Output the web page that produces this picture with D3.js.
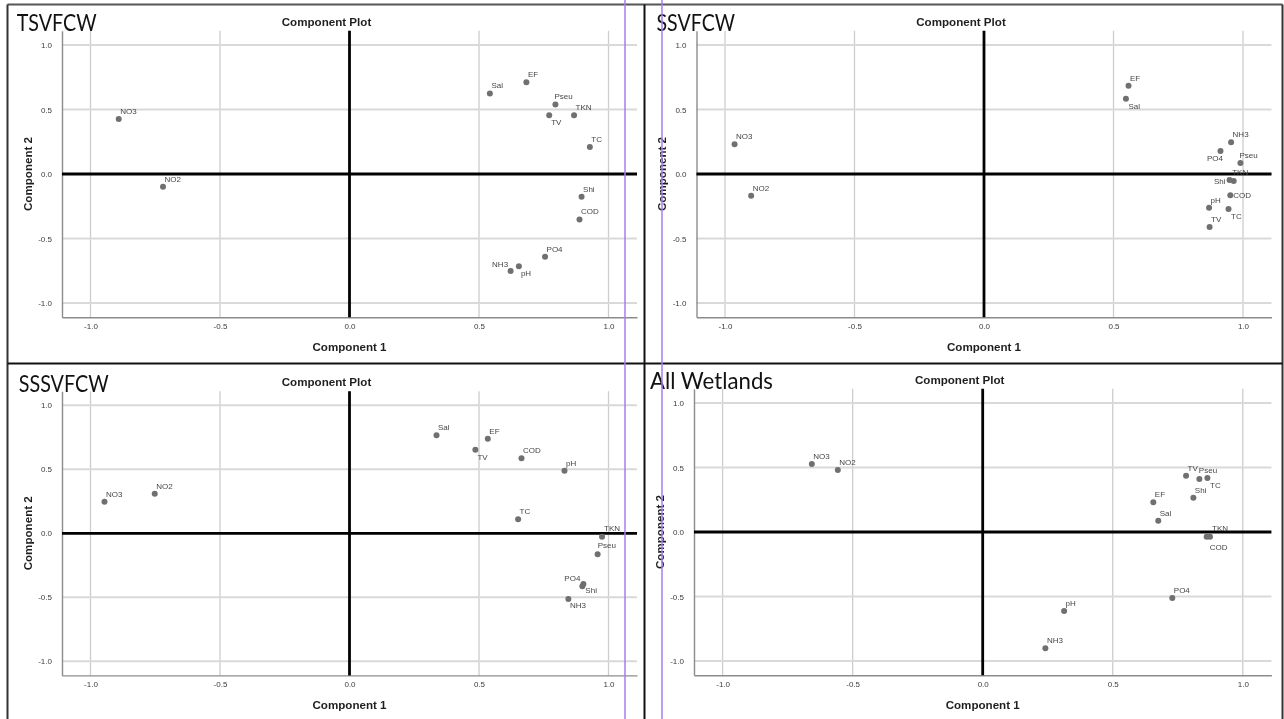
<!DOCTYPE html>
<html>
<head>
<meta charset="utf-8">
<script src="https://cdn.jsdelivr.net/npm/d3@7"></script>
<style>
  html, body { margin: 0; padding: 0; background: #ffffff; }
  svg { display: block; }
</style>
</head>
<body>
<svg id="chart" width="1284" height="719"></svg>
<script>
// Component loadings (rotated PCA) for each wetland type
const panelNames = ["TSVFCW", "SSVFCW", "SSSVFCW", "All Wetlands"];
const axisTicks = [-1.0, -0.5, 0.0, 0.5, 1.0];

const tsvVars  = ["NO3", "NO2", "Sal", "EF", "Pseu", "TV", "TKN", "TC", "Shi", "COD", "PO4", "pH", "NH3"];
const tsvComp1 = [-0.891, -0.720, 0.542, 0.683, 0.795, 0.771, 0.867, 0.928, 0.896, 0.888, 0.755, 0.654, 0.622];
const tsvComp2 = [0.427, -0.098, 0.624, 0.712, 0.539, 0.456, 0.456, 0.210, -0.176, -0.352, -0.642, -0.715, -0.751];

const ssvVars  = ["NO3", "NO2", "EF", "Sal", "NH3", "PO4", "Pseu", "TKN", "Shi", "COD", "pH", "TC", "TV"];
const ssvComp1 = [-0.963, -0.899, 0.558, 0.548, 0.954, 0.913, 0.990, 0.964, 0.948, 0.951, 0.869, 0.944, 0.871];
const ssvComp2 = [0.231, -0.168, 0.684, 0.584, 0.246, 0.178, 0.085, -0.054, -0.047, -0.165, -0.261, -0.271, -0.411];

const sssVars  = ["NO3", "NO2", "Sal", "EF", "TV", "COD", "pH", "TC", "TKN", "Pseu", "PO4", "Shi", "NH3"];
const sssComp1 = [-0.946, -0.752, 0.336, 0.534, 0.486, 0.664, 0.830, 0.651, 0.975, 0.958, 0.903, 0.899, 0.845];
const sssComp2 = [0.247, 0.309, 0.766, 0.738, 0.652, 0.587, 0.488, 0.109, -0.027, -0.164, -0.396, -0.414, -0.513];

const allVars  = ["NO3", "NO2", "TV", "Pseu", "TC", "Shi", "EF", "Sal", "TKN", "COD", "PO4", "pH", "NH3"];
const allComp1 = [-0.657, -0.557, 0.782, 0.833, 0.864, 0.810, 0.656, 0.675, 0.874, 0.861, 0.729, 0.313, 0.241];
const allComp2 = [0.527, 0.481, 0.436, 0.411, 0.419, 0.266, 0.230, 0.088, -0.036, -0.036, -0.512, -0.612, -0.902];

const panelData = [
  { vars: tsvVars, c1: tsvComp1, c2: tsvComp2 },
  { vars: ssvVars, c1: ssvComp1, c2: ssvComp2 },
  { vars: sssVars, c1: sssComp1, c2: sssComp2 },
  { vars: allVars, c1: allComp1, c2: allComp2 }
];

// Plot rectangles and panel-name placement
const layouts = [
  { left: 62,  top: 30.8,  width: 575, height: 286.4, nameX: 16.7, nameY: 31,  nameW: 80 },
  { left: 696.5, top: 30.8, width: 575, height: 286.4, nameX: 656.5, nameY: 31, nameW: 78.5 },
  { left: 62,  top: 391.2, width: 575, height: 284.2, nameX: 18.7, nameY: 392, nameW: 90 },
  { left: 694, top: 388.8, width: 577.4, height: 286.4, nameX: 650, nameY: 388.5, nameW: 123 }
];

// Label placement around each point: [anchor, dx, dy]
const UR = ["start", 1.5, -5];
const placements = [
  { TV: ["start", 2, 10], pH: ["start", 2, 10], NH3: ["end", -2.5, -4], Pseu: ["start", -1, -5] },
  { Sal: ["start", 2.5, 10], PO4: ["end", 2.5, 10], Shi: ["end", -4, 3.5], COD: ["start", 3, 3],
    TC: ["start", 2.5, 10], TKN: ["start", -1.5, -6], Pseu: ["start", -1, -5.5] },
  { TV: ["start", 2, 10], PO4: ["end", -3, -3], Shi: ["start", 3, 6.5], NH3: ["start", 1.7, 9.5],
    Pseu: ["start", 0, -6], TKN: ["start", 2, -6] },
  { TC: ["start", 2.7, 10], COD: ["start", 3, 13], TKN: ["start", 2, -6], Pseu: ["start", -0.5, -5.5] }
];

// everything is drawn inside one grayscale-antialiased layer
const svg = d3.select("#chart").append("g").attr("opacity", 0.995);
const sansFont = "'Liberation Sans', Arial, sans-serif";

function drawPanel(i) {
  const L = layouts[i];
  const D = panelData[i];
  const g = svg.append("g");

  const x = d3.scaleLinear().domain([-1.11, 1.11]).range([L.left, L.left + L.width]);
  const y = d3.scaleLinear().domain([-1.11, 1.11]).range([L.top + L.height, L.top]);
  const right = L.left + L.width, bottom = L.top + L.height;

  // grid
  g.append("g").selectAll("line").data(axisTicks).join("line")
    .attr("x1", d => x(d)).attr("x2", d => x(d))
    .attr("y1", L.top).attr("y2", bottom)
    .attr("stroke", "#cdcdcd").attr("stroke-width", 1.3);
  g.append("g").selectAll("line").data(axisTicks).join("line")
    .attr("x1", L.left).attr("x2", right)
    .attr("y1", d => y(d)).attr("y2", d => y(d))
    .attr("stroke", "#d9d9d9").attr("stroke-width", 2);

  // axes
  const xAxis = d3.axisBottom(x).tickValues(axisTicks).tickSize(0).tickSizeOuter(0)
    .tickPadding(6).tickFormat(d => d.toFixed(1));
  const yAxis = d3.axisLeft(y).tickValues(axisTicks).tickSize(0).tickSizeOuter(0)
    .tickPadding(10).tickFormat(d => d.toFixed(1));

  const gx = g.append("g").attr("transform", `translate(0,${bottom})`).call(xAxis);
  const gy = g.append("g").attr("transform", `translate(${L.left},0)`).call(yAxis);
  [gx, gy].forEach(a => {
    a.select(".domain").attr("stroke", "#8c8c8c").attr("stroke-width", 1.4);
    a.selectAll("text")
      .attr("font-family", sansFont).attr("font-size", 8).attr("fill", "#3a3a3a");
  });

  // zero reference lines
  g.append("line").attr("x1", x(0)).attr("x2", x(0)).attr("y1", L.top).attr("y2", bottom)
    .attr("stroke", "#000").attr("stroke-width", 2.8);
  g.append("line").attr("x1", L.left).attr("x2", right).attr("y1", y(0)).attr("y2", y(0))
    .attr("stroke", "#000").attr("stroke-width", 2.8);

  // titles
  const titles = g.append("g")
    .attr("font-family", sansFont).attr("font-weight", "bold").attr("font-size", 11.6).attr("fill", "#1e1e1e");
  titles.append("text").text("Component Plot")
    .attr("x", x(0) - 23).attr("y", L.top - 5.3).attr("text-anchor", "middle");
  titles.append("text").text("Component 1")
    .attr("x", x(0)).attr("y", bottom + 34).attr("text-anchor", "middle");
  titles.append("text").text("Component 2")
    .attr("transform", `translate(${L.left - 30.5},${(L.top + bottom) / 2}) rotate(-90)`)
    .attr("text-anchor", "middle");

  // loadings
  const pts = D.vars.map((v, k) => ({ v, c1: D.c1[k], c2: D.c2[k] }));
  g.append("g").selectAll("circle").data(pts).join("circle")
    .attr("cx", d => x(d.c1)).attr("cy", d => y(d.c2)).attr("r", 3)
    .attr("fill", "#6f6f6f");
  g.append("g").selectAll("text").data(pts).join("text")
    .text(d => d.v)
    .each(function (d) {
      const p = placements[i][d.v] || UR;
      d3.select(this)
        .attr("x", x(d.c1) + p[1]).attr("y", y(d.c2) + p[2])
        .attr("text-anchor", p[0]);
    })
    .attr("font-family", sansFont).attr("font-size", 8).attr("fill", "#454545");

  // panel name
  svg.append("text").text(panelNames[i])
    .attr("x", L.nameX).attr("y", L.nameY)
    .attr("textLength", L.nameW).attr("lengthAdjust", "spacingAndGlyphs")
    .attr("font-family", "Lato, 'Open Sans', sans-serif").attr("font-size", 22.5).attr("fill", "#111");
}

for (let i = 0; i < 4; i++) drawPanel(i);

// frame around the 2x2 grid
const frame = svg.append("g").attr("fill", "none");
frame.append("line").attr("x1", 7.5).attr("x2", 1282.5).attr("y1", 4.5).attr("y2", 4.5)
  .attr("stroke", "#555").attr("stroke-width", 2);
frame.append("line").attr("x1", 7.5).attr("x2", 7.5).attr("y1", 4.5).attr("y2", 719)
  .attr("stroke", "#333").attr("stroke-width", 2);
frame.append("line").attr("x1", 1282.5).attr("x2", 1282.5).attr("y1", 4.5).attr("y2", 719)
  .attr("stroke", "#333").attr("stroke-width", 2);
frame.append("line").attr("x1", 644.5).attr("x2", 644.5).attr("y1", 4.5).attr("y2", 719)
  .attr("stroke", "#111").attr("stroke-width", 2);
frame.append("line").attr("x1", 7.5).attr("x2", 1282.5).attr("y1", 363.5).attr("y2", 363.5)
  .attr("stroke", "#111").attr("stroke-width", 2);

// vertical guide lines
[625, 662].forEach(gx => {
  svg.append("line").attr("x1", gx).attr("x2", gx).attr("y1", 0).attr("y2", 719)
    .attr("stroke", "#a77cf0").attr("stroke-width", 1.5);
});
</script>
</body>
</html>
